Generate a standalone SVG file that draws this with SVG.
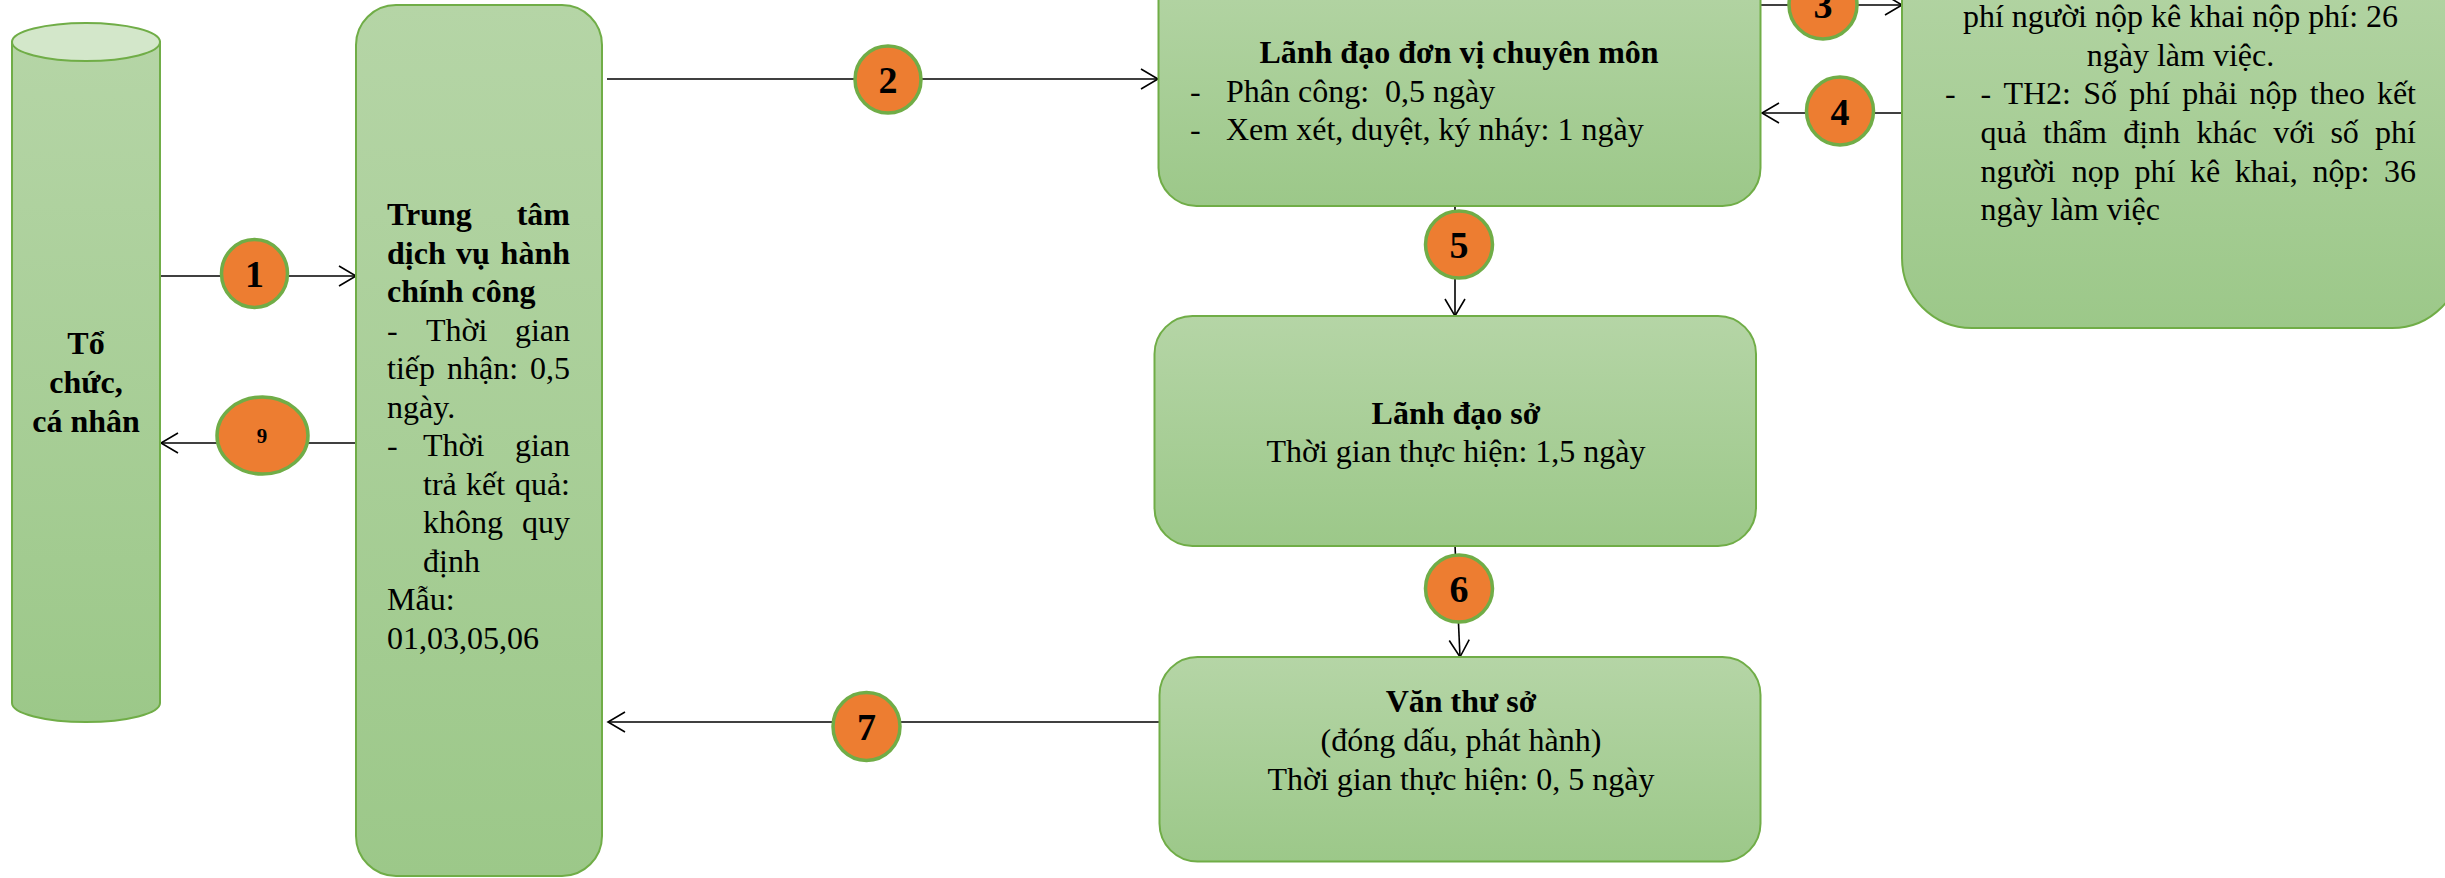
<svg xmlns="http://www.w3.org/2000/svg" width="2445" height="878" viewBox="0 0 2445 878">
<style>
.box{stroke:#70ad47;stroke-width:2;fill:url(#g)}
.cyl{stroke:#70ad47;stroke-width:2;fill:url(#g)}
.cap{stroke:#70ad47;stroke-width:2;fill:#d3e7ca}
.badge{fill:#ed7d31;stroke:#70ad47;stroke-width:3.5}
.ln{stroke:#000;stroke-width:1.6;fill:none}
text{font-family:"Liberation Serif","Times New Roman",serif;font-size:32px;fill:#000}
.b{font-weight:bold}
.c{text-anchor:middle}
.e{text-anchor:end}
.num{font-weight:bold;font-size:38px;text-anchor:middle}
</style>
<defs>
<linearGradient id="g" x1="0" y1="0" x2="0" y2="1">
<stop offset="0" stop-color="#b5d5a6"/>
<stop offset="1" stop-color="#9cc889"/>
</linearGradient>
<marker id="arr" viewBox="0 0 20 22" refX="18" refY="11" markerWidth="20" markerHeight="22" markerUnits="userSpaceOnUse" orient="auto">
<path d="M1,1 L18,11 L1,21" fill="none" stroke="#000" stroke-width="1.6"/>
</marker>
</defs>

<g id="connectors">
<line class="ln" x1="160" y1="276" x2="356" y2="276" marker-end="url(#arr)"/>
<line class="ln" x1="356" y1="443" x2="161" y2="443" marker-end="url(#arr)"/>
<line class="ln" x1="607" y1="79" x2="1158" y2="79" marker-end="url(#arr)"/>
<line class="ln" x1="1761" y1="5" x2="1902" y2="5" marker-end="url(#arr)"/>
<line class="ln" x1="1902" y1="113" x2="1762" y2="113" marker-end="url(#arr)"/>
<line class="ln" x1="1455" y1="206" x2="1455" y2="316" marker-end="url(#arr)"/>
<line class="ln" x1="1455" y1="545" x2="1460" y2="657" marker-end="url(#arr)"/>
<line class="ln" x1="1159" y1="722" x2="608" y2="722" marker-end="url(#arr)"/>
</g>

<g id="node-to-chuc">
<path class="cyl" d="M12,42 L12,703 A74,19 0 0 0 160,703 L160,42 Z"/>
<ellipse class="cap" cx="86" cy="42" rx="74" ry="19"/>
<text class="b c" x="86" y="354">Tổ</text>
<text class="b c" x="86" y="393">chức,</text>
<text class="b c" x="86" y="432">cá nhân</text>
</g>

<g id="node-trung-tam">
<rect class="box" x="356" y="5" width="246" height="871" rx="40" ry="40"/>
<text class="b" x="387" y="225">Trung</text><text class="b e" x="570" y="225">tâm</text>
<text class="b" x="387" y="263.5">dịch</text><text class="b" x="456" y="263.5">vụ</text><text class="b e" x="570" y="263.5">hành</text>
<text class="b" x="387" y="302">chính công</text>
<text x="387" y="340.5">-</text><text x="426" y="340.5">Thời</text><text class="e" x="570" y="340.5">gian</text>
<text x="387" y="379">tiếp</text><text x="447" y="379">nhận:</text><text class="e" x="570" y="379">0,5</text>
<text x="387" y="417.5">ngày.</text>
<text x="387" y="456">-</text><text x="423" y="456">Thời</text><text class="e" x="570" y="456">gian</text>
<text x="423" y="494.5">trả</text><text x="466" y="494.5">kết</text><text class="e" x="570" y="494.5">quả:</text>
<text x="423" y="533">không</text><text class="e" x="570" y="533">quy</text>
<text x="423" y="571.5">định</text>
<text x="387" y="610">Mẫu:</text>
<text x="387" y="648.5">01,03,05,06</text>
</g>

<g id="node-lanh-dao-don-vi">
<rect class="box" x="1158.5" y="-40" width="602" height="246" rx="38" ry="38"/>
<text class="b c" x="1459" y="63">Lãnh đạo đơn vị chuyên môn</text>
<text x="1190" y="101.5">-</text><text x="1226" y="101.5" xml:space="preserve">Phân công:  0,5 ngày</text>
<text x="1190" y="140">-</text><text x="1226" y="140">Xem xét, duyệt, ký nháy: 1 ngày</text>
</g>

<g id="node-tham-dinh">
<rect class="box" x="1902" y="-80" width="560" height="408" rx="70" ry="70"/>
<text class="c" x="2180.5" y="27">phí người nộp kê khai nộp phí: 26</text>
<text class="c" x="2180.5" y="65.5">ngày làm việc.</text>
<text x="1945" y="104">-</text>
<text x="1980.5" y="104">-</text><text x="2003.4" y="104">TH2:</text><text x="2083.2" y="104">Số</text><text x="2129.2" y="104">phí</text><text x="2182.3" y="104">phải</text><text x="2249.6" y="104">nộp</text><text x="2309.8" y="104">theo</text><text class="e" x="2416" y="104">kết</text>
<text x="1980.5" y="143">quả</text><text x="2043" y="143">thẩm</text><text x="2123.3" y="143">định</text><text x="2196.5" y="143">khác</text><text x="2273.2" y="143">với</text><text x="2330.4" y="143">số</text><text class="e" x="2416" y="143">phí</text>
<text x="1980.5" y="181.5">người</text><text x="2071.8" y="181.5">nọp</text><text x="2134.4" y="181.5">phí</text><text x="2189.9" y="181.5">kê</text><text x="2234.7" y="181.5">khai,</text><text x="2312.4" y="181.5">nộp:</text><text class="e" x="2416" y="181.5">36</text>
<text x="1980.5" y="220">ngày làm việc</text>
</g>

<g id="node-lanh-dao-so">
<rect class="box" x="1154.5" y="316" width="601.5" height="230" rx="38" ry="38"/>
<text class="b c" x="1456" y="424">Lãnh đạo sở</text>
<text class="c" x="1456" y="462">Thời gian thực hiện: 1,5 ngày</text>
</g>

<g id="node-van-thu">
<rect class="box" x="1159.5" y="657" width="601" height="204.5" rx="38" ry="38"/>
<text class="b c" x="1461" y="712">Văn thư sở</text>
<text class="c" x="1461" y="751">(đóng dấu, phát hành)</text>
<text class="c" x="1461" y="790">Thời gian thực hiện: 0, 5 ngày</text>
</g>

<g id="badges">
<g id="badge-1"><ellipse class="badge" cx="254.5" cy="273.5" rx="33" ry="34"/><text class="num" x="254.5" y="287">1</text></g>
<g id="badge-9"><ellipse class="badge" cx="262.5" cy="435.5" rx="45.5" ry="38.5"/><text class="b c" style="font-size:21px" x="262" y="443">9</text></g>
<g id="badge-2"><ellipse class="badge" cx="888" cy="79.5" rx="33" ry="33.5"/><text class="num" x="888" y="93">2</text></g>
<g id="badge-3"><ellipse class="badge" cx="1823" cy="5" rx="34" ry="34"/><text class="num" x="1823" y="18">3</text></g>
<g id="badge-4"><ellipse class="badge" cx="1840" cy="111" rx="33.5" ry="34"/><text class="num" x="1840" y="124.5">4</text></g>
<g id="badge-5"><ellipse class="badge" cx="1459" cy="244.5" rx="33.5" ry="33.5"/><text class="num" x="1459" y="258">5</text></g>
<g id="badge-6"><ellipse class="badge" cx="1459" cy="588.5" rx="33.5" ry="33.5"/><text class="num" x="1459" y="602">6</text></g>
<g id="badge-7"><ellipse class="badge" cx="866.5" cy="726.5" rx="33.5" ry="34"/><text class="num" x="866.5" y="740">7</text></g>
</g>
</svg>
